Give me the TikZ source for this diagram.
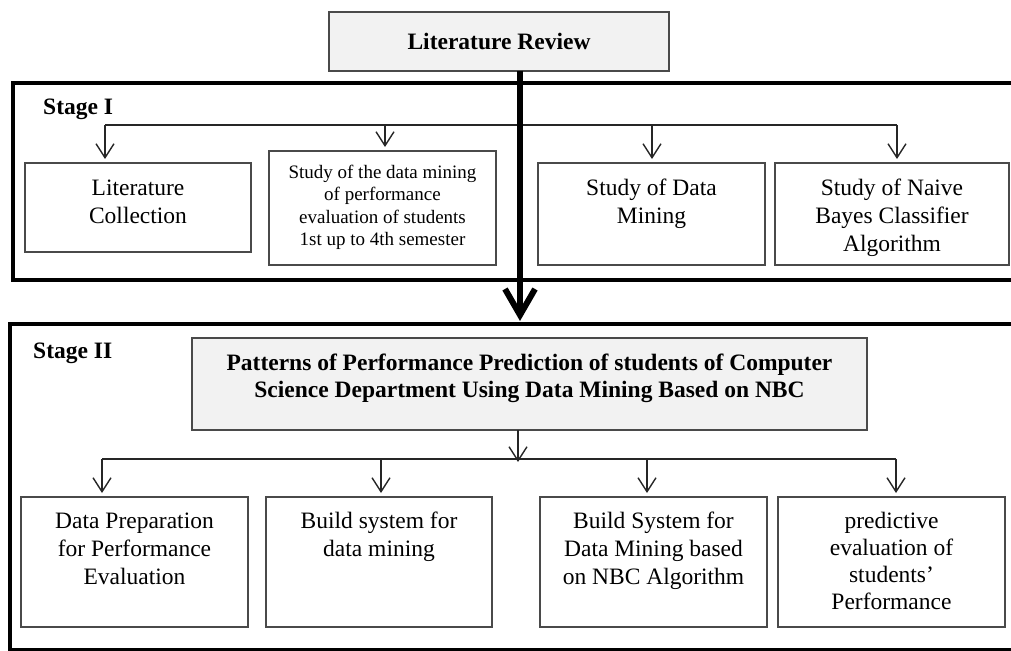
\documentclass[tikz,border=0pt]{standalone}
\usepackage{fontspec}
\setmainfont{Liberation Serif}
\usetikzlibrary{arrows.meta}
\definecolor{lightfill}{HTML}{F2F2F2}
\definecolor{boxgray}{HTML}{4A4A4A}
\newcommand{\bt}[4]{\parbox[t][#2][t]{#1}{\centering\rule{0pt}{#3}#4}}
\tikzset{
  box/.style={draw=boxgray, line width=1.3pt, inner sep=0pt, outer sep=0pt, fill=white, anchor=north west},
  greybox/.style={box, fill=lightfill},
  frame/.style={draw=black, line width=4pt},
  conn/.style={line width=1.4pt, draw=black!85},
  arr/.style={conn, -{Straight Barb[length=14pt,width=18pt]}, shorten >=4pt},
  bigarr/.style={draw=black, line width=6pt, -{Straight Barb[length=26pt,width=30pt]}},
  stagelabel/.style={anchor=base west, inner sep=0pt, font=\fontsize{23.5}{28}\selectfont\bfseries},
}
\begin{document}
\begin{tikzpicture}[x=1pt,y=-1pt,font=\fontsize{23.5}{28}\selectfont]
\useasboundingbox (0,0) rectangle (1011,650);
\clip (0,0) rectangle (1011,650);
% frames
\draw[frame] (13,83) rectangle (1040,280);
\draw[frame, line width=4.5pt] (10,324) rectangle (1040,650);
% top box
\node[greybox, minimum width=340pt, minimum height=59pt, font=\fontsize{23.5}{28}\selectfont\bfseries] (lr) at (329,12) {Literature Review};
% stage labels
\node[stagelabel] (s1) at (43,115) {Stage I};
\node[stagelabel] (s2) at (33,358) {Stage II};
% stage I boxes
\node[box] (lc) at (25,163) {\bt{226pt}{89pt}{32pt}{Literature\\Collection}};
\node[box] (sdm) at (269,151) {\fontsize{19}{22.5}\selectfont\bt{227pt}{114pt}{27pt}{Study of the data mining\\of performance\\evaluation of students\\1st up to 4th semester}};
\node[box] (sd) at (538,163) {\bt{227pt}{102pt}{32pt}{Study of Data\\Mining}};
\node[box] (nb) at (775,163) {\bt{234pt}{102pt}{32pt}{Study of Naive\\Bayes Classifier\\Algorithm}};
% stage II boxes
\node[greybox, font=\fontsize{23.5}{27}\selectfont\bfseries] (pat) at (192,338) {\bt{675pt}{92pt}{32pt}{Patterns of Performance Prediction of students of Computer\\Science Department Using Data Mining Based on NBC}};
\node[box] (dp) at (21,497) {\bt{227pt}{130pt}{31pt}{Data Preparation\\for Performance\\Evaluation}};
\node[box] (bs) at (266,497) {\bt{226pt}{130pt}{31pt}{Build system for\\data mining}};
\node[box] (nbc) at (540,497) {\bt{227pt}{130pt}{31pt}{Build System for\\Data Mining based\\on NBC Algorithm}};
\node[box, font=\fontsize{23.5}{27}\selectfont] (pe) at (778,497) {\bt{227pt}{130pt}{31pt}{predictive\\evaluation of\\students’\\Performance}};
% stage I connectors
\coordinate (j1) at (520,125);
\draw[conn] ([xshift=-33pt]lc.north |- j1) -- ([xshift=5pt]nb.north |- j1);
\draw[arr] ([xshift=-33pt]lc.north |- j1) -- ([xshift=-33pt]lc.north);
\draw[arr] ([xshift=2.5pt]sdm.north |- j1) -- ([xshift=2.5pt]sdm.north);
\draw[arr] ([xshift=0.5pt]sd.north |- j1) -- ([xshift=0.5pt]sd.north);
\draw[arr] ([xshift=5pt]nb.north |- j1) -- ([xshift=5pt]nb.north);
% stage II connectors
\coordinate (j2) at (518,459);
\draw[arr, shorten >=0pt] ([xshift=-11.5pt]pat.south) -- ([yshift=-3pt]j2);
\draw[conn] ([xshift=-32.5pt]dp.north |- j2) -- ([xshift=4.5pt]pe.north |- j2);
\draw[arr] ([xshift=-32.5pt]dp.north |- j2) -- ([xshift=-32.5pt]dp.north);
\draw[arr] ([xshift=2pt]bs.north |- j2) -- ([xshift=2pt]bs.north);
\draw[arr] ([xshift=-6.5pt]nbc.north |- j2) -- ([xshift=-6.5pt]nbc.north);
\draw[arr] ([xshift=4.5pt]pe.north |- j2) -- ([xshift=4.5pt]pe.north);
% thick arrow
\coordinate (s2top) at (520,321);
\draw[bigarr] ([xshift=21pt]lr.south) -- (s2top);
\end{tikzpicture}
\end{document}
